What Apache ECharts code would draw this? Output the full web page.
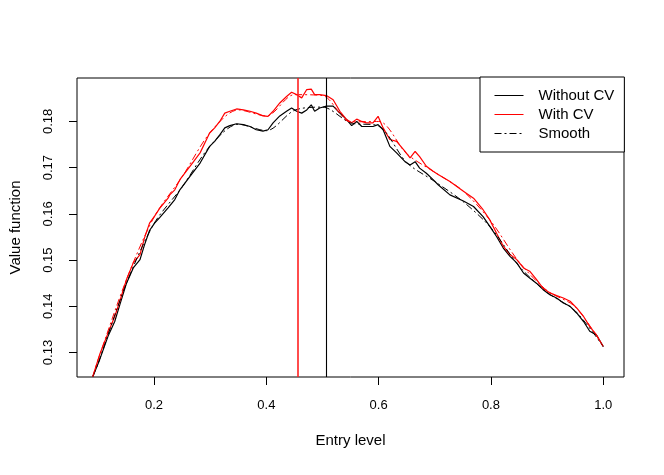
<!DOCTYPE html>
<html>
<head>
<meta charset="utf-8">
<title>Value function</title>
<script src="https://cdn.jsdelivr.net/npm/echarts@6/dist/echarts.min.js"></script>
<style>
	html,body{margin:0;padding:0;background:#fff;}
	#chart{width:664px;height:475px;}
</style>
</head>
<body>
<div id="chart"></div>
<script>
// entry level (x) where both curves were read
var entryLevel = [0.091,0.103,0.118,0.130,0.139,0.151,0.163,0.175,0.183,0.192,
	0.201,0.210,0.225,0.228,0.237,0.246,0.264,0.282,0.299,0.308,
	0.317,0.326,0.335,0.347,0.359,0.371,0.382,0.394,0.403,0.412,
	0.424,0.436,0.445,0.454,0.463,0.472,0.480,0.486,0.495,0.507,
	0.519,0.531,0.543,0.552,0.561,0.570,0.578,0.590,0.599,0.608,
	0.620,0.632,0.647,0.656,0.665,0.673,0.685,0.697,0.706,0.727,
	0.751,0.769,0.786,0.798,0.810,0.822,0.834,0.846,0.858,0.869,
	0.881,0.893,0.905,0.917,0.929,0.941,0.953,0.965,0.976,0.988,1.000];
// value function without control variate (black)
var withoutCV = [0.1248,0.1284,0.1335,0.1367,0.1403,0.1450,0.1483,0.1501,0.1533,0.1564,
	0.1580,0.1592,0.1613,0.1616,0.1631,0.1652,0.1681,0.1710,0.1746,0.1757,
	0.1771,0.1786,0.1791,0.1795,0.1793,0.1789,0.1782,0.1779,0.1782,0.1797,
	0.1812,0.1822,0.1829,0.1822,0.1818,0.1825,0.1836,0.1822,0.1829,0.1833,
	0.1833,0.1818,0.1804,0.1791,0.1800,0.1789,0.1789,0.1789,0.1793,0.1782,
	0.1746,0.1732,0.1713,0.1706,0.1713,0.1699,0.1688,0.1674,0.1663,0.1641,
	0.1628,0.1616,0.1594,0.1573,0.1551,0.1526,0.1508,0.1494,0.1472,0.1461,
	0.1450,0.1436,0.1425,0.1418,0.1407,0.1400,0.1385,0.1367,0.1346,0.1338,0.1313];
// value function with control variate (red)
var withCV = [0.1248,0.1295,0.1342,0.1378,0.1411,0.1458,0.1494,0.1512,0.1548,0.1580,
	0.1595,0.1612,0.1634,0.1641,0.1652,0.1674,0.1703,0.1732,0.1775,0.1786,
	0.1800,0.1818,0.1822,0.1827,0.1825,0.1822,0.1818,0.1812,0.1811,0.1822,
	0.1840,0.1854,0.1863,0.1858,0.1851,0.1869,0.1870,0.1858,0.1858,0.1856,
	0.1847,0.1822,0.1804,0.1797,0.1805,0.1800,0.1797,0.1797,0.1811,0.1786,
	0.1761,0.1757,0.1735,0.1721,0.1735,0.1724,0.1703,0.1692,0.1685,0.1670,
	0.1649,0.1634,0.1609,0.1587,0.1558,0.1530,0.1512,0.1501,0.1483,0.1476,
	0.1458,0.1439,0.1429,0.1423,0.1418,0.1411,0.1396,0.1378,0.1356,0.1338,0.1313];
// smoothed curves (dash-dot)
var smoothLevel = [0.091,0.10,0.15,0.20,0.25,0.30,0.35,0.40,0.45,0.50,
	0.55,0.60,0.65,0.70,0.75,0.80,0.85,0.90,0.95,1.00];
var smoothWithout = [0.1248,0.1275,0.1447,0.1579,0.1658,0.1747,0.1794,0.1780,0.1824,0.1831,
	0.1797,0.1790,0.1711,0.1670,0.1627,0.1570,0.1487,0.1430,0.1390,0.1313];
var smoothWith = [0.1248,0.1283,0.1455,0.1593,0.1680,0.1776,0.1825,0.1812,0.1858,0.1856,
	0.1799,0.1800,0.1730,0.1690,0.1650,0.1584,0.1496,0.1434,0.1399,0.1313];
// chosen entry levels (vertical lines)
var optimalWithout = 0.506;
var optimalWith = 0.4555;
// axis ranges and tick labels
var xRange = [0.0628, 1.037];
var yRange = [0.1247, 0.1894];
var xTicks = [0.2,0.4,0.6,0.8,1.0];
var yTicks = [0.13,0.14,0.15,0.16,0.17,0.18];

function pairs(xs, ys){
	var out = [];
	for(var i=0;i<xs.length;i++){
		out.push([xs[i], ys[i]]);
	}
	return out;
}

//竖线：从下边框画到上边框
function vline(name, x, color, width){
	return {
		name: name,
		type: 'line',
		symbol: 'none',
		color: color,
		data: [],
		markLine: {
			silent: true,
			symbol: ['none','none'],
			label: {show: false},
			emphasis: {disabled: true},
			lineStyle: {color: color, width: width, type: 'solid', opacity: 1},
			data: [[{coord: [x, yRange[0]]}, {coord: [x, yRange[1]]}]]
		}
	};
}

var font = 'Liberation Sans, Arial, Helvetica, sans-serif';
var chart = echarts.init(document.getElementById('chart'));
var option = {
	animation: false,
	backgroundColor: '#fff',
	textStyle: {fontFamily: font, color: '#000'},
	grid: {
		left: 77, right: 40, top: 78, bottom: 98,
		show: true, borderColor: '#000', borderWidth: 1,
		containLabel: false, outerBoundsMode: 'none'
	},
	legend: {
		orient: 'vertical',
		left: 480, top: 77,
		backgroundColor: '#fff',
		borderColor: '#000', borderWidth: 1, borderRadius: 0,
		padding: [11, 10, 11, 14],
		itemWidth: 29, itemHeight: 14, itemGap: 4,
		itemStyle: {opacity: 0},
		lineStyle: {width: 1},
		textStyle: {fontFamily: font, fontSize: 15, color: '#000', lineHeight: 15, padding: [0,0,0,10]},
		data: ['Without CV', 'With CV', 'Smooth']
	},
	xAxis: {
		type: 'value',
		min: xRange[0], max: xRange[1],
		name: 'Entry level',
		nameLocation: 'middle',
		nameGap: 56,
		nameTextStyle: {fontFamily: font, fontSize: 15, color: '#000'},
		splitLine: {show: false},
		axisLine: {show: false},
		axisTick: {show: true, inside: false, length: 8, customValues: xTicks, lineStyle: {color: '#000'}},
		axisLabel: {
			customValues: xTicks,
			margin: 22,
			fontFamily: font, fontSize: 13, color: '#000',
			formatter: function(v){ return v.toFixed(1); }
		}
	},
	yAxis: {
		type: 'value',
		min: yRange[0], max: yRange[1],
		name: 'Value function',
		nameLocation: 'middle',
		nameGap: 54,
		nameRotate: 90,
		nameTextStyle: {fontFamily: font, fontSize: 15, color: '#000'},
		splitLine: {show: false},
		axisLine: {show: false},
		axisTick: {show: true, inside: false, length: 8, customValues: yTicks, lineStyle: {color: '#000'}},
		axisLabel: {
			customValues: yTicks,
			rotate: 90,
			margin: 22,
			fontFamily: font, fontSize: 13, color: '#000',
			formatter: function(v){ return v.toFixed(2); }
		}
	},
	series: [
		{
			name: 'Without CV',
			type: 'line',
			symbol: 'none',
			data: pairs(entryLevel, withoutCV),
			lineStyle: {color: '#000', width: 1.2},
			itemStyle: {color: '#000'}
		},
		{
			name: 'With CV',
			type: 'line',
			symbol: 'none',
			data: pairs(entryLevel, withCV),
			lineStyle: {color: '#ff0000', width: 1.2},
			itemStyle: {color: '#ff0000'}
		},
		{
			name: 'Smooth',
			type: 'line',
			symbol: 'none',
			smooth: 0.3,
			data: pairs(smoothLevel, smoothWithout),
			lineStyle: {color: '#000', width: 1, type: [7,3,2,3]},
			itemStyle: {color: '#000'}
		},
		{
			name: 'Smooth CV',
			type: 'line',
			symbol: 'none',
			smooth: 0.3,
			data: pairs(smoothLevel, smoothWith),
			lineStyle: {color: '#ff0000', width: 1, type: [7,3,2,3]},
			itemStyle: {color: '#ff0000'}
		},
		vline('Optimal without CV', optimalWithout, '#000000', 1.1),
		vline('Optimal with CV', optimalWith, '#ff2020', 1.6)
	]
};
chart.setOption(option);
</script>
</body>
</html>
